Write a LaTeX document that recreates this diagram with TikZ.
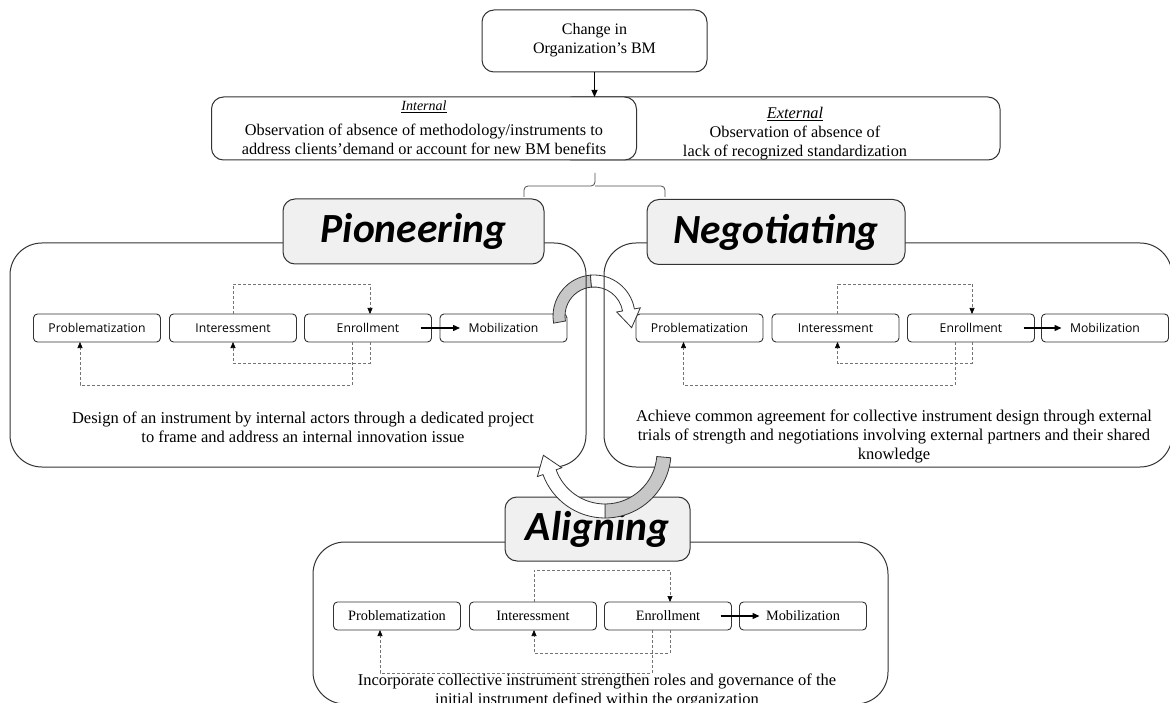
\documentclass[tikz,border=0pt]{standalone}
\usepackage{fontspec}
\setmainfont{Liberation Serif}
\newfontfamily\titlefont{Carlito}
\newfontfamily\labelfont{Open Sans}
\usetikzlibrary{calc,arrows.meta}
\begin{document}
\begin{tikzpicture}[x=1pt,y=-1pt,
  every node/.style={inner sep=0pt, outer sep=0pt},
  topbox/.style={draw=black!80, line width=1pt, rounded corners=12pt, fill=white},
  toptext/.style={align=center, font=\fontsize{16.3}{19}\selectfont},
  bigbox/.style={draw=black!80, line width=1pt, rounded corners=32pt},
  titlebox/.style={draw=black!80, line width=1pt, fill=black!6, rounded corners=12pt, font=\titlefont\bfseries\itshape\fontsize{41.5}{42}\selectfont},
  proc/.style={draw=black!80, line width=0.9pt, fill=white, rounded corners=4pt, minimum width=127pt, minimum height=28pt},
  sanslab/.style={proc, font=\labelfont\fontsize{12.2}{12}\selectfont},
  seriflab/.style={proc, font=\fontsize{14.3}{14}\selectfont},
  desc/.style={align=center, font=\fontsize{16.5}{19}\selectfont},
  fb/.style={densely dashed, draw=black!55, line width=0.6pt, -{Triangle[length=6pt,width=5pt,color=black]}},
  flow/.style={line width=1.3pt, -{Triangle[length=7pt,width=6pt]}},
  band/.style={draw=black!80, line width=0.8pt},
]
\useasboundingbox (0,0) rectangle (1170,703);
\clip (0,0) rectangle (1170,703);

% ---------- top ----------
\node[topbox, minimum width=225pt, minimum height=62pt] (chg) at (594.5,41) {};
\node[toptext, font=\fontsize{16}{19}\selectfont] (chgt) at (594.5,40) {Change in\\Organization’s BM};
\node[topbox, minimum width=440pt, minimum height=63pt] (ext) at (780,128.5) {};
\node[toptext] (extt) at (795,134) {\underline{\textit{External}}\\Observation of absence of\\lack of recognized standardization};
\node[topbox, minimum width=425pt, minimum height=63pt] (int) at (424,128.5) {};
\node[font=\fontsize{14}{16}\selectfont] (intl) at (424,107) {\underline{\textit{Internal}}};
\node[toptext] (intt) at (424,139.5) {Observation of absence of methodology/instruments to\\address clients’demand or account for new BM benefits};
\draw[flow, line width=1pt] (chg.south) -- (chg.south |- int.north);

% bracket
\draw[black!70, line width=0.8pt, rounded corners=4pt] (524,197) |- (595,186) -- (595,173);
\draw[black!70, line width=0.8pt, rounded corners=4pt] (665,197) |- (595,186);

% ---------- process boxes ----------
\node[sanslab] (pp) at (97,328) {Problematization};
\node[sanslab] (pi) at (233,328) {Interessment};
\node[sanslab] (pe) at (368,328) {Enrollment};
\node[sanslab] (pm) at (503.5,328) {Mobilization};

\node[sanslab] (np) at (699.5,328) {Problematization};
\node[sanslab] (ni) at (835.5,328) {Interessment};
\node[sanslab] (ne) at (971,328) {Enrollment};
\node[sanslab] (nm) at (1105,328) {Mobilization};

\node[seriflab] (ap) at (397,616) {Problematization};
\node[seriflab] (ai) at (533,616) {Interessment};
\node[seriflab] (ae) at (668,616) {Enrollment};
\node[seriflab] (am) at (803,616) {Mobilization};

% loops
\draw[fb] (pi.north) -- ++(0,-30) -| ([xshift=2pt]pe.north);
\draw[fb] ([xshift=2pt]pe.south) -- ++(0,21) -| (pi.south);
\draw[fb] ([xshift=-16pt]pe.south) -- ++(0,43) -| ([xshift=-17pt]pp.south);
\draw[flow] ([xshift=-11pt]pe.east) -- ([xshift=20pt]pm.west);

\draw[fb] ([xshift=2pt]ni.north) -- ++(0,-30) -| ([xshift=1pt]ne.north);
\draw[fb] ([xshift=1pt]ne.south) -- ++(0,21) -| ([xshift=2pt]ni.south);
\draw[fb] ([xshift=-16pt]ne.south) -- ++(0,43) -| ([xshift=-16pt]np.south);
\draw[flow] ([xshift=-11pt]ne.east) -- ([xshift=20pt]nm.west);

\draw[fb] ([xshift=1pt]ai.north) -- ++(0,-32) -| ([xshift=2pt]ae.north);
\draw[fb] ([xshift=2pt]ae.south) -- ++(0,23) -| ([xshift=1pt]ai.south);
\draw[fb] ([xshift=-16pt]ae.south) -- ++(0,43) -| ([xshift=-17pt]ap.south);
\draw[flow] ([xshift=-11pt]ae.east) -- ([xshift=20pt]am.west);

% ---------- top circular arrow ----------
\begin{scope}[shift={(594,316)}]
\filldraw[band, fill=black!22] (190:41pt) arc[start angle=190, end angle=95, radius=41pt] -- (95:29pt) arc[start angle=95, end angle=190, radius=29pt] -- cycle;
\filldraw[band, fill=white] (95:41pt) arc[start angle=95, end angle=10, radius=41pt] -- (10:47pt) -- (-17.2:39.4pt) -- (10:23pt) -- (10:29pt) arc[start angle=10, end angle=95, radius=29pt] -- cycle;
\end{scope}

% ---------- big boxes ----------
\node[bigbox, minimum width=576pt, minimum height=224pt] (pbox) at (298,355) {};
\node[bigbox, minimum width=568pt, minimum height=224pt] (nbox) at (888,355) {};
\node[bigbox, minimum width=575pt, minimum height=162pt] (abox) at (600.5,623) {};

\node[titlebox, minimum width=261pt, minimum height=65pt] (pt) at (413.5,231.5) {Pioneering};
\node[titlebox, minimum width=258pt, minimum height=65pt] (nt) at (776,232) {Negotiating};
\node[titlebox, minimum width=185pt, minimum height=64pt] (at) at (597.5,529) {Aligning};

% descriptions
\node[desc] (pd) at (303,427.5) {Design of an instrument by internal actors through a dedicated project\\to frame and address an internal innovation issue};
\node[desc] (nd) at (894,436.5) {Achieve common agreement for collective instrument design through external\\trials of strength and negotiations involving external partners and their shared\\knowledge};
\node[desc] (ad) at (597,691) {Incorporate collective instrument strengthen roles and governance of the\\initial instrument defined within the organization};

% ---------- bottom circular arrow ----------
\begin{scope}[shift={(605,452)}]
\filldraw[band, fill=black!22] (-5:66pt) arc[start angle=-5, end angle=-90, radius=66pt] -- (-90:52pt) arc[start angle=-90, end angle=-5, radius=52pt] -- cycle;
\filldraw[band, fill=white] (-90:66pt) arc[start angle=-90, end angle=-160, radius=66pt] -- (-160:72pt) -- (183.04:61.7pt) -- (-160:46pt) -- (-160:52pt) arc[start angle=-160, end angle=-90, radius=52pt] -- cycle;
\end{scope}
\end{tikzpicture}
\end{document}
